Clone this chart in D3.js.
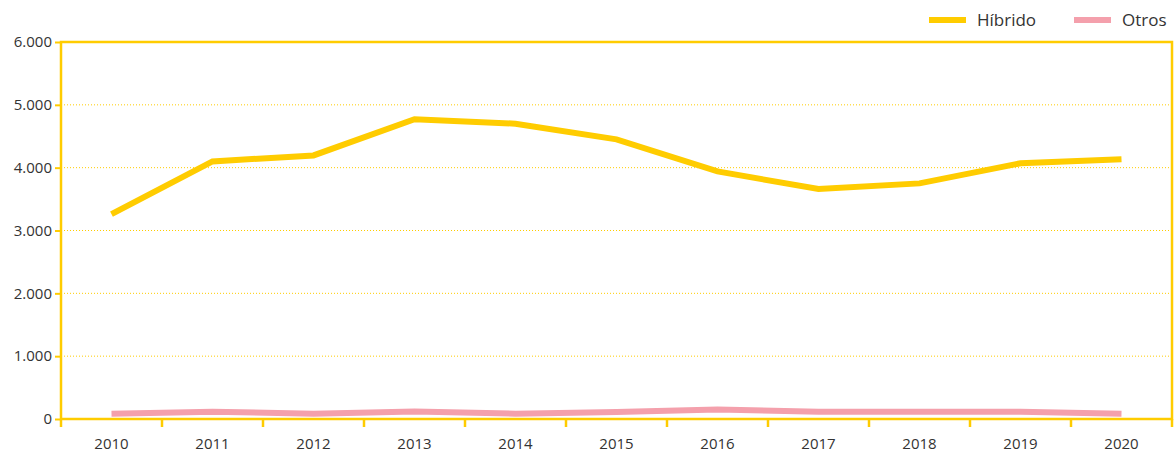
<!DOCTYPE html>
<html><head><meta charset="utf-8">
<script src="https://cdn.jsdelivr.net/npm/d3@7"></script>
<style>
body{margin:0;background:#fff;}
text{font-family:"Open Sans",sans-serif;fill:#333;}
</style></head>
<body><svg id="c" width="1176" height="456"></svg>
<script>
const years = ["2010","2011","2012","2013","2014","2015","2016","2017","2018","2019","2020"];
const hibrido = [3260,4100,4195,4770,4700,4450,3940,3660,3750,4070,4135];
const otros = [85,115,85,120,85,112,150,115,115,115,85];
const yTicks = [0,1000,2000,3000,4000,5000,6000];
const seriesNames = ["Híbrido","Otros"];
const colors = ["#FFCC00","#F4A0AC"];

const svg = d3.select("#c");
const m = {l:61,r:1172,t:42,b:419};
const x = d3.scaleBand().domain(years).range([m.l,m.r]);
const y = d3.scaleLinear().domain([0,6000]).range([m.b,m.t]);
const fmt = d => d3.format(",")(d).replace(/,/g,".");
const gold = "#FFCC00";

svg.append("g").selectAll("line").data(yTicks.filter(d=>d>0&&d<6000)).join("line")
  .attr("x1",m.l).attr("x2",m.r).attr("y1",d=>y(d)).attr("y2",d=>y(d))
  .attr("stroke",gold).attr("stroke-width",1).attr("stroke-dasharray","1,2");

svg.append("rect").attr("x",m.l).attr("y",m.t).attr("width",m.r-m.l).attr("height",m.b-m.t)
  .attr("fill","none").attr("stroke",gold).attr("stroke-width",2.5);

const ya = svg.append("g").attr("transform",`translate(${m.l},0)`)
  .call(d3.axisLeft(y).tickValues(yTicks).tickFormat(fmt).tickSize(6).tickPadding(3));
ya.select(".domain").remove();
ya.selectAll("line").attr("stroke",gold).attr("stroke-width",2);
ya.selectAll("text").attr("font-size",15).attr("fill","#333").style("font-family","Open Sans");

const xa = svg.append("g").attr("transform",`translate(0,${m.b})`)
  .call(d3.axisBottom(x).tickSize(0).tickPadding(19));
xa.select(".domain").remove();
xa.selectAll("text").attr("font-size",15).attr("fill","#333").style("font-family","Open Sans");
const bounds = years.map(d=>x(d)).concat([m.r]);
svg.append("g").selectAll("line").data(bounds).join("line")
  .attr("x1",d=>d).attr("x2",d=>d).attr("y1",m.b).attr("y2",m.b+8)
  .attr("stroke",gold).attr("stroke-width",2.5);

const line = d3.line().x((d,i)=>x(years[i])+x.bandwidth()/2).y(d=>y(d));
[otros,hibrido].forEach((s,k)=>{
  const idx = k===0?1:0;
  svg.append("path").datum(s).attr("d",line).attr("fill","none")
    .attr("stroke",colors[idx]).attr("stroke-width",6).attr("stroke-linejoin","miter");
});

const leg = [{x:929,tx:977},{x:1074,tx:1122}];
seriesNames.forEach((n,i)=>{
  svg.append("line").attr("x1",leg[i].x).attr("x2",leg[i].x+37).attr("y1",20).attr("y2",20)
    .attr("stroke",colors[i]).attr("stroke-width",6);
  svg.append("text").attr("x",leg[i].tx).attr("y",26).attr("font-size",17).text(n);
});
</script></body></html>
